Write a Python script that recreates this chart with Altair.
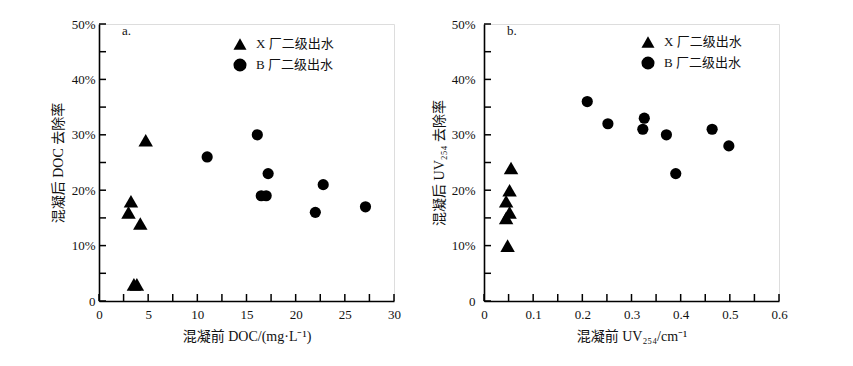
import altair as alt
import pandas as pd

FONT = "Liberation Serif, Noto Sans CJK SC, serif"

series_names = ["X 厂二级出水", "B 厂二级出水"]
series_shapes = ["triangle-up", "circle"]

# Panel a: DOC before coagulation vs DOC removal rate (%)
a_x_doc = [4.75, 3.25, 3.0, 4.2, 3.55, 3.85]
a_x_rate = [29, 18, 16, 14, 3, 3]
a_b_doc = [11.0, 16.1, 17.2, 16.5, 17.0, 22.8, 22.0, 27.1]
a_b_rate = [26, 30, 23, 19, 19, 21, 16, 17]

# Panel b: UV254 before coagulation vs UV254 removal rate (%)
b_x_uv = [0.055, 0.052, 0.045, 0.052, 0.045, 0.048]
b_x_rate = [24, 20, 18, 16, 15, 10]
b_b_uv = [0.21, 0.252, 0.326, 0.323, 0.371, 0.39, 0.464, 0.498]
b_b_rate = [36, 32, 33, 31, 30, 23, 31, 28]

y_ticks = [0, 5, 10, 15, 20, 25, 30, 35, 40, 45, 50]
y_labels = [0, 10, 20, 30, 40, 50]
a_x_ticks = [0, 2.5, 5, 7.5, 10, 12.5, 15, 17.5, 20, 22.5, 25, 27.5, 30]
a_x_labels = [0, 5, 10, 15, 20, 25, 30]
b_x_ticks = [0, 0.05, 0.1, 0.15, 0.2, 0.25, 0.3, 0.35, 0.4, 0.45, 0.5, 0.55, 0.6]
b_x_labels = [0, 0.1, 0.2, 0.3, 0.4, 0.5, 0.6]

W, H = 295, 277


def make_df(xx, xy, bx, by):
    rows = [{"x": a, "y": b, "series": series_names[0]} for a, b in zip(xx, xy)]
    rows += [{"x": a, "y": b, "series": series_names[1]} for a, b in zip(bx, by)]
    return pd.DataFrame(rows)


def panel(df, xdom, xticks, xlabels, xlabel_expr, xtitle, ytitle, tag,
          legend_x, legend_y, ylabel_pad, ytitle_pad):
    xs = alt.Scale(domain=xdom, nice=False, zero=False)
    ys = alt.Scale(domain=[0, 50], nice=False)
    pts = alt.Chart(df).mark_point(filled=True, opacity=1, color="black").encode(
        x=alt.X("x:Q", scale=xs, axis=alt.Axis(
            values=xlabels, title=xtitle, labelExpr=xlabel_expr,
            ticks=False, grid=False, domainColor="black", domainWidth=1.6,
            labelPadding=7, titlePadding=8, labelFont=FONT, titleFont=FONT,
            labelFontSize=13, titleFontSize=14, labelColor="#111",
            titleColor="#111", titleFontWeight="normal", labelFlush=False)),
        y=alt.Y("y:Q", scale=ys, axis=alt.Axis(
            values=y_labels, title=ytitle,
            labelExpr="datum.value == 0 ? '0' : datum.value + '%'",
            ticks=False, grid=False, domainColor="black", domainWidth=1.6,
            labelPadding=ylabel_pad, titlePadding=ytitle_pad, labelFont=FONT,
            titleFont=FONT, labelFontSize=13, titleFontSize=14,
            labelColor="#111", titleColor="#111", titleFontWeight="normal",
            labelFlush=False)),
        shape=alt.Shape("series:N", scale=alt.Scale(domain=series_names, range=series_shapes),
                        legend=alt.Legend(
                            title=None, orient="none", legendX=legend_x, legendY=legend_y,
                            labelFont=FONT, labelFontSize=13, labelColor="#111",
                            symbolSize=170, symbolFillColor="black", symbolStrokeColor="black",
                            symbolStrokeWidth=0, symbolOpacity=1, rowPadding=7, labelOffset=9)),
        size=alt.condition(alt.datum.series == series_names[0], alt.value(210), alt.value(125)),
    )
    xt = alt.Chart(pd.DataFrame({"x": xticks})).mark_rule(color="black", strokeWidth=1.5).encode(
        x=alt.X("x:Q", scale=xs), y=alt.value(H), y2=alt.value(H - 7))
    yt = alt.Chart(pd.DataFrame({"y": y_ticks})).mark_rule(color="black", strokeWidth=1.5).encode(
        y=alt.Y("y:Q", scale=ys), x=alt.value(0), x2=alt.value(7))
    lab = alt.Chart(pd.DataFrame({"t": [tag]})).mark_text(
        align="left", baseline="middle", font=FONT, fontSize=13, color="#111").encode(
        text="t:N", x=alt.value(23), y=alt.value(7))
    return alt.layer(pts, xt, yt, lab).properties(width=W, height=H)


pa = panel(make_df(a_x_doc, a_x_rate, a_b_doc, a_b_rate), [0, 30], a_x_ticks, a_x_labels,
           "datum.value", "混凝前 DOC/(mg·L⁻¹)", "混凝后 DOC 去除率", "a.",
           134, 13, 4, 6)
pb = panel(make_df(b_x_uv, b_x_rate, b_b_uv, b_b_rate), [0, 0.6], b_x_ticks, b_x_labels,
           "datum.value == 0 ? '0' : format(datum.value, '.1f')",
           "混凝前 UV₂₅₄/cm⁻¹", "混凝后 UV₂₅₄ 去除率", "b.",
           157, 11, 9, 5)

chart = alt.hconcat(pa, pb, spacing=30).resolve_scale(
    x="independent", y="independent", shape="independent"
).resolve_legend(shape="independent").properties(
    padding={"left": 42, "top": 9, "right": 5, "bottom": 5}
).configure_view(stroke=None).configure(background="white")

chart.save("out.html", embed_options={"renderer": "svg", "actions": False})
